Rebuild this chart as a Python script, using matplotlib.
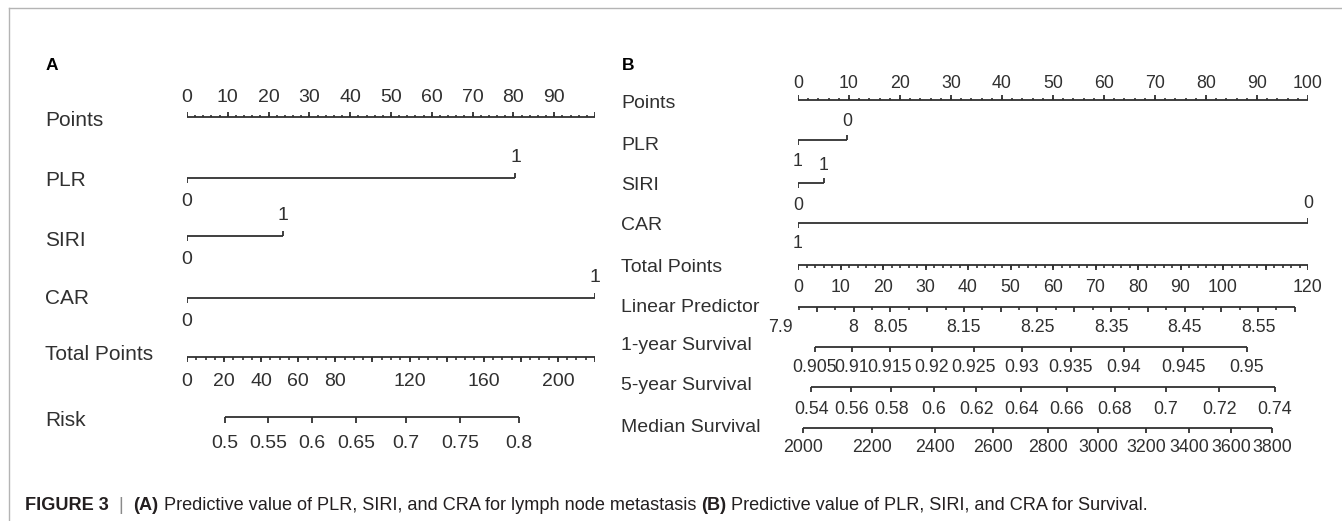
import matplotlib
matplotlib.use('Agg')
import matplotlib.pyplot as plt
from matplotlib import transforms
from matplotlib import font_manager

# ---- panel A: lymph node metastasis nomogram ----
a_points_labels = [0, 10, 20, 30, 40, 50, 60, 70, 80, 90]
a_plr_levels = ['0', '1']
a_plr_points = [0, 80.5]
a_siri_levels = ['0', '1']
a_siri_points = [0, 23.5]
a_car_levels = ['0', '1']
a_car_points = [0, 100]
a_total_max = 220
a_total_labels = [0, 20, 40, 60, 80, 120, 160, 200]
a_risk_values = [0.5, 0.55, 0.6, 0.65, 0.7, 0.75, 0.8]
a_risk_total = [20.5, 43.7, 67.4, 91.1, 118.1, 147.2, 179.0]

# ---- panel B: survival nomogram ----
b_points_labels = [0, 10, 20, 30, 40, 50, 60, 70, 80, 90, 100]
b_plr_levels = ['1', '0']
b_plr_points = [0, 9.6]
b_siri_levels = ['0', '1']
b_siri_points = [0, 5.1]
b_car_levels = ['1', '0']
b_car_points = [0, 100]
b_total_max = 120
b_total_labels = [0, 10, 20, 30, 40, 50, 60, 70, 80, 90, 100, 120]
b_lp_ticks = [7.9, 7.95, 8.0, 8.05, 8.1, 8.15, 8.2, 8.25, 8.3, 8.35, 8.4, 8.45, 8.5, 8.55, 8.6]
b_lp_labels = [7.9, 8, 8.05, 8.15, 8.25, 8.35, 8.45, 8.55]
b_lp_anchor = (7.9, -4.2, 8.6, 116.9)   # (lp, total points) at both ends
b_surv1_values = [0.905, 0.91, 0.915, 0.92, 0.925, 0.93, 0.935, 0.94, 0.945, 0.95]
b_surv1_total = [4.0, 12.7, 21.6, 31.5, 41.4, 52.7, 64.2, 76.7, 90.6, 105.6]
b_surv5_values = [0.54, 0.56, 0.58, 0.6, 0.62, 0.64, 0.66, 0.68, 0.7, 0.72, 0.74]
b_surv5_total = [3.1, 12.5, 21.9, 32.0, 41.9, 52.5, 63.3, 74.6, 86.6, 99.1, 112.2]
b_median_values = [2000, 2200, 2400, 2600, 2800, 3000, 3200, 3400, 3600, 3800]
b_median_total = [1.2, 17.4, 32.2, 45.9, 58.8, 70.6, 81.9, 92.0, 101.9, 111.5]

W, H = 1342, 521
INK = '#303030'
LW = 1.3

plt.rcParams['font.family'] = ['Liberation Sans', 'DejaVu Sans']

fig = plt.figure(figsize=(W / 100, H / 100), dpi=100)
fig.patch.set_facecolor('white')


def panel_axes(x0, x1):
    # x in "points" units (0..100), y in pixel rows from the top
    ax = fig.add_axes([x0 / W, 0, (x1 - x0) / W, 1])
    ax.set_xlim(0, 100)
    ax.set_ylim(H, 0)
    ax.axis('off')
    return ax


def row_label(ax, y, text, fs, x_px):
    tr = transforms.blended_transform_factory(fig.transFigure, ax.transData)
    ax.text(x_px / W, y, text, transform=tr, ha='left', va='center',
            fontsize=fs, color=INK)


def draw_axis(ax, y, lo, hi, major, minor, label_pos, labels, label_y, direction, fs,
              major_len=5, minor_len=2.5):
    ax.plot([lo, hi], [y, y], color=INK, lw=LW, solid_capstyle='butt')
    ax.vlines(major, y, y + direction * major_len, color=INK, lw=LW)
    if minor:
        ax.vlines(minor, y, y + direction * minor_len, color=INK, lw=LW * 0.9)
    for p, lab in zip(label_pos, labels):
        ax.text(p, label_y, lab, ha='center', va='center', fontsize=fs, color=INK)


def draw_factor(ax, y, levels, pts, fs, up_off, down_off, tick=5):
    ax.plot([min(pts), max(pts)], [y, y], color=INK, lw=LW, solid_capstyle='butt')
    order = sorted(zip(pts, levels))
    for i, (p, lvl) in enumerate(order):
        d = 1 if i % 2 == 0 else -1
        ax.vlines([p], y, y + d * tick, color=INK, lw=LW)
        ax.text(p, y + (down_off if d > 0 else -up_off), lvl, ha='center',
                va='center', fontsize=fs, color=INK)


def fmt(v):
    return '%g' % v


# ------------------ panel A ------------------
axA = panel_axes(187, 595)
FA_ROW, FA_TICK = 15, 14
row_label(axA, 120, 'Points', FA_ROW, 45)
row_label(axA, 180, 'PLR', FA_ROW, 45)
row_label(axA, 240, 'SIRI', FA_ROW, 45)
row_label(axA, 298, 'CAR', FA_ROW, 45)
row_label(axA, 355, 'Total Points', FA_ROW, 45)
row_label(axA, 420, 'Risk', FA_ROW, 45)
fig.text(46 / W, 1 - 66 / H, 'A', fontsize=12.5, fontweight='bold', color='black',
         ha='left', va='center')

draw_axis(axA, 117, 0, 100, list(range(0, 101, 10)), list(range(0, 101, 2)),
          a_points_labels, [fmt(v) for v in a_points_labels], 97, -1, FA_TICK)
draw_factor(axA, 178, a_plr_levels, a_plr_points, FA_TICK, 21, 24)
draw_factor(axA, 236, a_siri_levels, a_siri_points, FA_TICK, 21, 24)
draw_factor(axA, 298, a_car_levels, a_car_points, FA_TICK, 21, 24)

sA = 100 / a_total_max
draw_axis(axA, 357, 0, 100, [t * sA for t in range(0, a_total_max + 1, 20)],
          [t * sA for t in range(0, a_total_max + 1, 5)],
          [t * sA for t in a_total_labels], [fmt(v) for v in a_total_labels],
          382, 1, FA_TICK, 5, 3)
risk_pos = [t * sA for t in a_risk_total]
draw_axis(axA, 417, risk_pos[0], risk_pos[-1], risk_pos, None, risk_pos,
          [fmt(v) for v in a_risk_values], 443, 1, FA_TICK, 6)

# ------------------ panel B ------------------
axB = panel_axes(798, 1308)
FB_ROW, FB_TICK = 14, 12.8
for y, t in [(103, 'Points'), (145, 'PLR'), (185, 'SIRI'), (225, 'CAR'),
             (267, 'Total Points'), (307, 'Linear Predictor'), (345, '1-year Survival'),
             (385, '5-year Survival'), (427, 'Median Survival')]:
    row_label(axB, y, t, FB_ROW, 621)
fig.text(622 / W, 1 - 65 / H, 'B', fontsize=12.5, fontweight='bold', color='black',
         ha='left', va='center')

draw_axis(axB, 100, 0, 100, list(range(0, 101, 10)), list(range(0, 101, 2)),
          b_points_labels, [fmt(v) for v in b_points_labels], 83, -1, FB_TICK)
draw_factor(axB, 140, b_plr_levels, b_plr_points, FB_TICK, 18, 22)
draw_factor(axB, 183, b_siri_levels, b_siri_points, FB_TICK, 18, 22)
draw_factor(axB, 223, b_car_levels, b_car_points, FB_TICK, 19, 21)

sB = 100 / b_total_max
draw_axis(axB, 265, 0, 100, [t * sB for t in range(0, b_total_max + 1, 10)],
          [t * sB for t in range(0, b_total_max + 1, 2)],
          [t * sB for t in b_total_labels], [fmt(v) for v in b_total_labels],
          288, 1, FB_TICK, 5, 3)

lp0, tp0, lp1, tp1 = b_lp_anchor


def lp_pos(v):
    return (tp0 + (v - lp0) * (tp1 - tp0) / (lp1 - lp0)) * sB


lp_major = [lp_pos(v) for v in b_lp_ticks]
lp_minor = [(a + b) / 2 for a, b in zip(lp_major[:-1], lp_major[1:])]
draw_axis(axB, 307, lp_major[0], lp_major[-1], lp_major, lp_minor,
          [lp_pos(v) for v in b_lp_labels], [fmt(v) for v in b_lp_labels],
          328, 1, FB_TICK, 5, 2.5)

for y, ly, vals, tot in [(347, 368, b_surv1_values, b_surv1_total),
                         (387, 409, b_surv5_values, b_surv5_total),
                         (428, 448, b_median_values, b_median_total)]:
    pos = [t * sB for t in tot]
    draw_axis(axB, y, pos[0], pos[-1], pos, None, pos, [fmt(v) for v in vals],
              ly, 1, FB_TICK, 5)

# ------------------ frame and caption ------------------
frame = fig.add_axes([0, 0, 1, 1], zorder=-1)
frame.set_xlim(0, W)
frame.set_ylim(H, 0)
frame.axis('off')
frame.plot([9, W], [8, 8], color='#b4b4b4', lw=1.0)
frame.plot([9, 9], [8, H], color='#b4b4b4', lw=1.0)

names = {f.name for f in font_manager.fontManager.ttflist}
cap_family = ['Liberation Sans Narrow'] if 'Liberation Sans Narrow' in names else ['Liberation Sans']
cap_parts = [('FIGURE 3', 'bold', '#231f20'),
             ('  |  ', 'normal', '#8a8a8a'),
             ('(A)', 'bold', '#231f20'),
             (' Predictive value of PLR, SIRI, and CRA for lymph node metastasis ', 'normal', '#231f20'),
             ('(B)', 'bold', '#231f20'),
             (' Predictive value of PLR, SIRI, and CRA for Survival.', 'normal', '#231f20')]

renderer = fig.canvas.get_renderer()


def draw_caption(fs):
    x = 25
    objs = []
    for txt, wt, col in cap_parts:
        t = fig.text(x / W, 1 - 505 / H, txt, fontsize=fs, fontweight=wt, color=col,
                     family=cap_family, ha='left', va='center')
        objs.append(t)
        x += t.get_window_extent(renderer).width
    return objs, x - 25


objs, width = draw_caption(12)
target = 1125
for t in objs:
    t.remove()
draw_caption(12 * target / width)

fig.savefig('out.png', dpi=100, facecolor='white')
